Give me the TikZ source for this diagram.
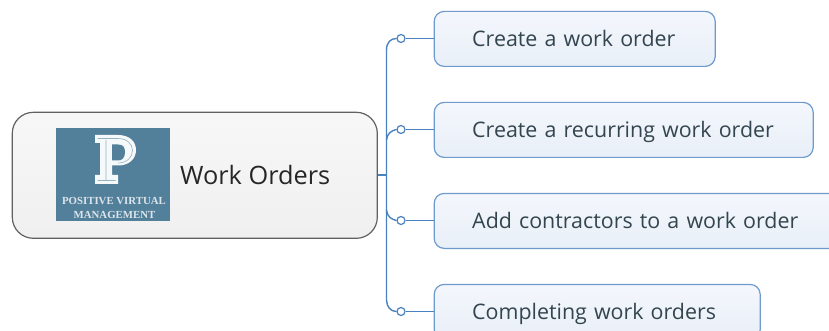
\documentclass[tikz,border=0pt]{standalone}
\usepackage{fontspec}
\setmainfont{Open Sans}
\newfontfamily\logofont{Liberation Serif}
\definecolor{linkblue}{HTML}{4A82C0}
\definecolor{boxedge}{HTML}{6F9ACD}
\definecolor{boxtop}{HTML}{F4F7FC}
\definecolor{boxbot}{HTML}{E9EFF8}
\definecolor{logoteal}{HTML}{527F9A}
\definecolor{subtext}{HTML}{33454F}
\tikzset{x=1pt,y=-1pt,
  topicbox/.style={draw=boxedge,line width=1.2pt,rounded corners=10pt,top color=boxtop,bottom color=boxbot,minimum height=55pt,anchor=north west,inner sep=0pt,text=subtext,font=\fontsize{21.4}{25}\selectfont,align=left,text height=20pt,text depth=5pt},
  rootbox/.style={draw=black!62,line width=1.2pt,rounded corners=21pt,top color=white!97!black,bottom color=white!94!black,minimum width=365pt,minimum height=126pt,anchor=north west,inner sep=0pt},
  joint/.style={circle,draw=linkblue,fill=white,line width=1.2pt,minimum size=8pt,inner sep=0pt},
  link/.style={draw=linkblue,line width=1.4pt},
  logolabel/.style={text=white!80!logoteal,font=\logofont\bfseries\fontsize{10.8}{12}\selectfont,inner sep=0pt}}
\begin{document}
\begin{tikzpicture}
\useasboundingbox (0,0) rectangle (829,331);
\clip (0,0) rectangle (829,331);
\node[rootbox] (root) at (11.7,111.7) {};
\node[fill=logoteal,minimum width=114pt,minimum height=93pt,inner sep=0pt,anchor=north west] (logo) at (56,128) {};
% the P of the logo
\fill[white!95!logoteal] (95,135) -- (118,135) .. controls (130,135) and (136,142) .. (136,150) .. controls (136,159) and (129,165.5) .. (118,165.5) -- (112,165.5) -- (112,175) -- (118,175) -- (118,184) -- (95,184) -- (95,175) -- (100,175) -- (100,143) -- (95,143) -- cycle;
\fill[logoteal] (112,144.5) -- (118,144.5) .. controls (123,144.5) and (125,147) .. (125,152) .. controls (125,158) and (122,160.5) .. (118,160.5) -- (112,160.5) -- cycle;
\draw[logoteal!60!white,line width=0.6pt] (97.5,138.5) -- (118,138.5) .. controls (127,138.5) and (132.5,144) .. (132.5,150.5) .. controls (132.5,157) and (127,163) .. (118,163) (106,140) -- (106,180) (97.5,180.5) -- (115.5,180.5);
\node[logolabel] (logoa) at (114,201.5) {POSITIVE VIRTUAL};
\node[logolabel] (logob) at (114.5,214.5) {MANAGEMENT};
\node[anchor=west,inner sep=0pt,text=black!85,font=\fontsize{25.3}{30}\selectfont] (title) at (180,175) {Work Orders};
\node[topicbox,minimum width=281pt,text width=205pt] (a) at (433.6,10.8) {Create a work order};
\node[topicbox,minimum width=379pt,text width=303pt] (b) at (433.6,101.8) {Create a recurring work order};
\node[topicbox,minimum width=410pt,text width=334pt] (c) at (433.6,192.8) {Add contractors to a work order};
\node[topicbox,minimum width=326pt,text width=250pt] (d) at (433.6,283.8) {Completing work orders};
\coordinate (spine) at (386.5,175);
\node[joint] (ja) at (401,38.5) {};
\node[joint] (jb) at (401,129.5) {};
\node[joint] (jc) at (401,220.5) {};
\node[joint] (jd) at (401,311.5) {};
\draw[link,line width=2pt] (root.east |- spine) -- (spine);
\draw[link] (spine) -- (386.5,50) .. controls (386.5,42) and (391,38.5) .. (ja.west);
\draw[link] (386.5,140) .. controls (387,133) and (392,130.5) .. (jb.west);
\draw[link] (386.5,210) .. controls (387,217) and (392,219.5) .. (jc.west);
\draw[link] (spine) -- (386.5,300) .. controls (386.5,307) and (391,311.5) .. (jd.west);
\draw[link] (ja.east) -- (ja.east -| a.west);
\draw[link] (jb.east) -- (jb.east -| b.west);
\draw[link] (jc.east) -- (jc.east -| c.west);
\draw[link] (jd.east) -- (jd.east -| d.west);
\end{tikzpicture}
\end{document}
